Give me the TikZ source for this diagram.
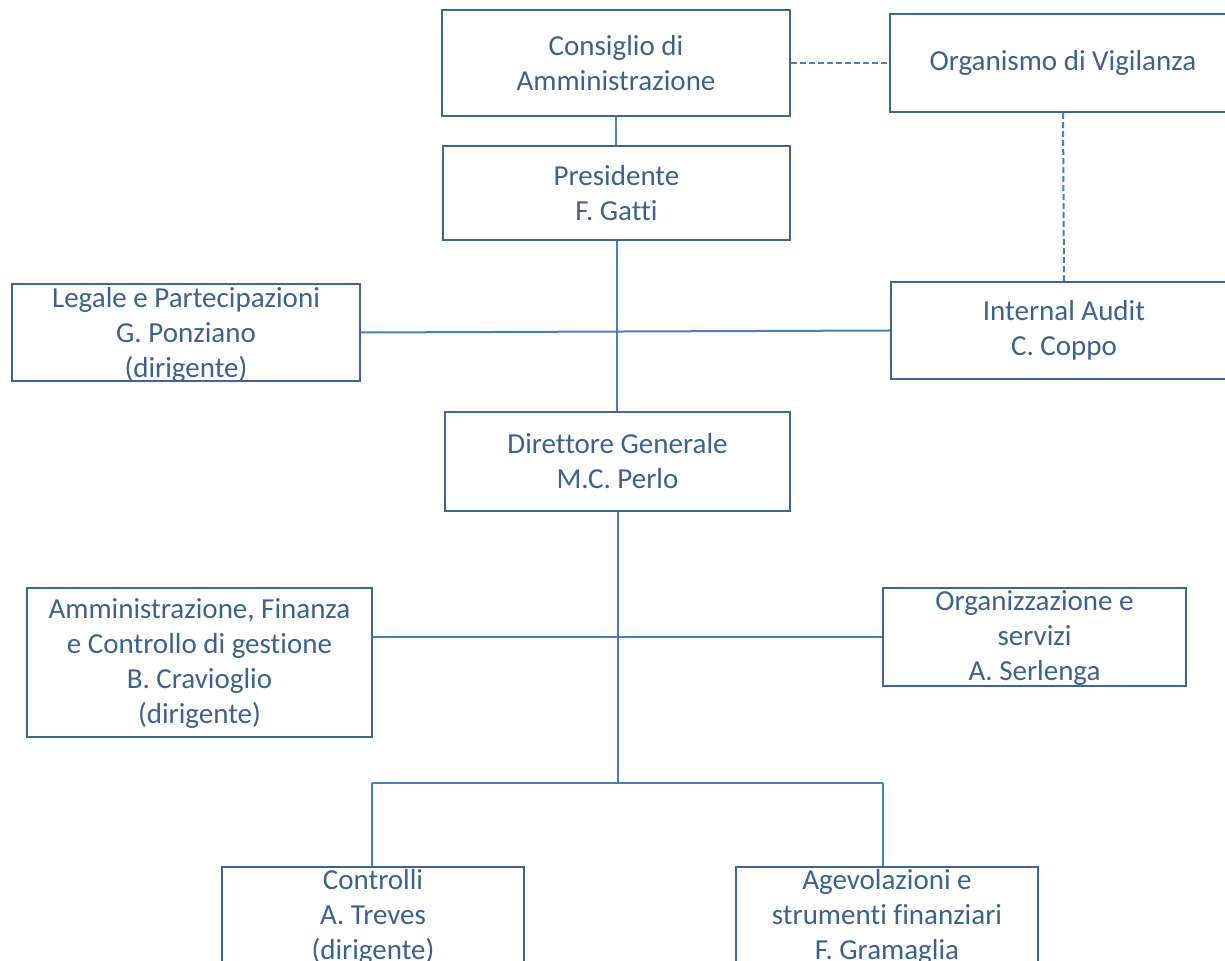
\documentclass[tikz,border=0pt]{standalone}
\usepackage{fontspec}
\setmainfont{Carlito}[Ligatures=NoCommon]
\usetikzlibrary{positioning}
\definecolor{boxc}{HTML}{3F6597}
\definecolor{linec}{HTML}{4A7EBB}
\definecolor{txtc}{HTML}{3A6190}
\tikzset{unit/.style={draw=boxc, line width=1.1pt, inner sep=0pt, fill=none},
%text placed on top of each box
unittext/.style={text=txtc, align=center, inner sep=0pt, font=\fontsize{14.5}{17.5}\selectfont},
link/.style={draw=linec, line width=1pt},
dotlink/.style={link, dash pattern=on 3pt off 1.5pt}}

\begin{document}
\begin{tikzpicture}[x=0.5pt, y=-0.5pt]
    \useasboundingbox (0,0) rectangle (1225,961);
    \clip (0,0) rectangle (1225,961);
    % boxes
    \node[unit, minimum width=174pt, minimum height=53pt] (cda) at (616,63) {};
    \node[unit, minimum width=173.5pt, minimum height=47pt] (pres) at (616.5,193) {};
    \node[unit, minimum width=173pt, minimum height=49pt] (odv) at (1063,63) {};
    \node[unit, minimum width=173pt, minimum height=48.5pt] (audit) at (1064,330.5) {};
    \node[unit, minimum width=174pt, minimum height=48.5pt] (legale) at (186,332.5) {};
    \node[unit, minimum width=172.5pt, minimum height=49.5pt] (dg) at (617.5,461.5) {};
    \node[unit, minimum width=172.5pt, minimum height=74.5pt] (afc) at (199.5,662.5) {};
    \node[unit, minimum width=151.5pt, minimum height=49pt] (org) at (1034.5,637) {};
    \node[unit, minimum width=151pt, minimum height=51pt] (contr) at (373,918) {};
    \node[unit, minimum width=151pt, minimum height=51pt] (agev) at (887,918) {};
    % texts
    \node[unittext] (cda-t) at (cda) {Consiglio di\\Amministrazione};
    \node[unittext] (pres-t) at (pres) {Presidente\\F. Gatti};
    \node[unittext] (odv-t) at (odv) {Organismo di Vigilanza};
    \node[unittext] (audit-t) at (audit) {Internal Audit\\C. Coppo};
    \node[unittext] (legale-t) at (186,335) {Legale e Partecipazioni\\G. Ponziano\\(dirigente)};
    \node[unittext] (dg-t) at (dg) {Direttore Generale\\M.C. Perlo};
    \node[unittext] (afc-t) at (199.5,664) {Amministrazione, Finanza\\e Controllo di gestione\\B. Cravioglio\\(dirigente)};
    \node[unittext] (org-t) at (1034.5,638) {Organizzazione e\\servizi\\A. Serlenga};
    \node[unittext] (contr-t) at (373,917) {Controlli\\A. Treves\\(dirigente)};
    \node[unittext] (agev-t) at (887,917) {Agevolazioni e\\strumenti finanziari\\F. Gramaglia};
    % connectors
    \coordinate (busl) at (372,783);
    \coordinate (busr) at (883,783);
    \draw[link] (cda.south) -- (cda.south |- pres.north);
    \draw[link] (pres.south) -- (pres.south |- dg.north);
    \draw[link] (legale.east) -- (audit.west);
    \draw[link] (dg.south) -- (dg.south |- busl);
    \draw[link] (org.west -| afc.east) -- (org.west);
    \draw[link] (busl) -- (busr);
    \draw[link] (busl) -- (busl |- contr.north);
    \draw[link] (busr) -- (busr |- agev.north);
    \draw[dotlink] (cda.east) -- (odv.west);
    \draw[dotlink] (odv.south) -- (audit.north);
\end{tikzpicture}
\end{document}
